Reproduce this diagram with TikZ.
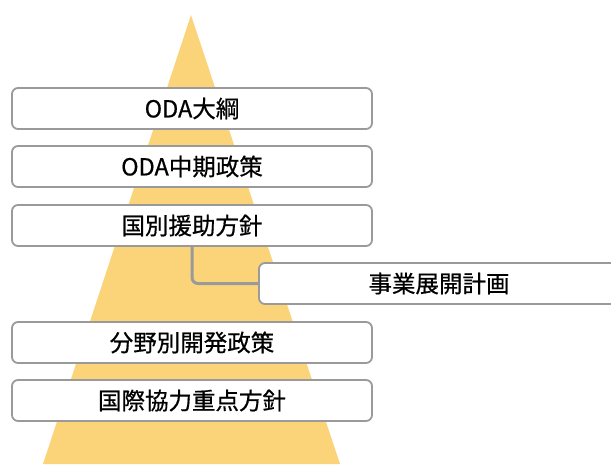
\documentclass[tikz,border=0pt]{standalone}
\usepackage{fontspec}
\newfontfamily\jpfont[FakeBold=0.6]{Noto Sans CJK JP}
\definecolor{pyramid}{HTML}{FBD47A}
\definecolor{boxline}{HTML}{9A9A9A}
\tikzset{
  level/.style={draw=boxline, line width=1.8pt, rounded corners=6pt, fill=white,
    minimum width=360pt, minimum height=41pt, inner sep=0pt,
    font=\jpfont\fontsize{23.5pt}{28pt}\selectfont},
  link/.style={draw=boxline, line width=3pt, rounded corners=6pt}
}
\begin{document}
\begin{tikzpicture}[x=1pt,y=-1pt]
    \clip (0,0) rectangle (611,464);
    \useasboundingbox (0,0) rectangle (611,464);

    % Pyramid behind the levels
    \fill[pyramid] (191,15) -- (340,464) -- (43,464) -- cycle;

    % Policy levels
    \node[level] (charter) at (192,108.5) {ODA大綱};
    \node[level] (midterm) at (192,166.5) {ODA中期政策};
    \node[level] (country) at (192,225.5) {国別援助方針};
    \node[level] (rolling) at (439,283.5) {事業展開計画};
    \node[level] (sector) at (192,342.5) {分野別開発政策};
    \node[level] (global) at (192,400.5) {国際協力重点方針};

    % Link to the rolling plan
    \draw[link] (country.south) |- (rolling.west);
\end{tikzpicture}
\end{document}
